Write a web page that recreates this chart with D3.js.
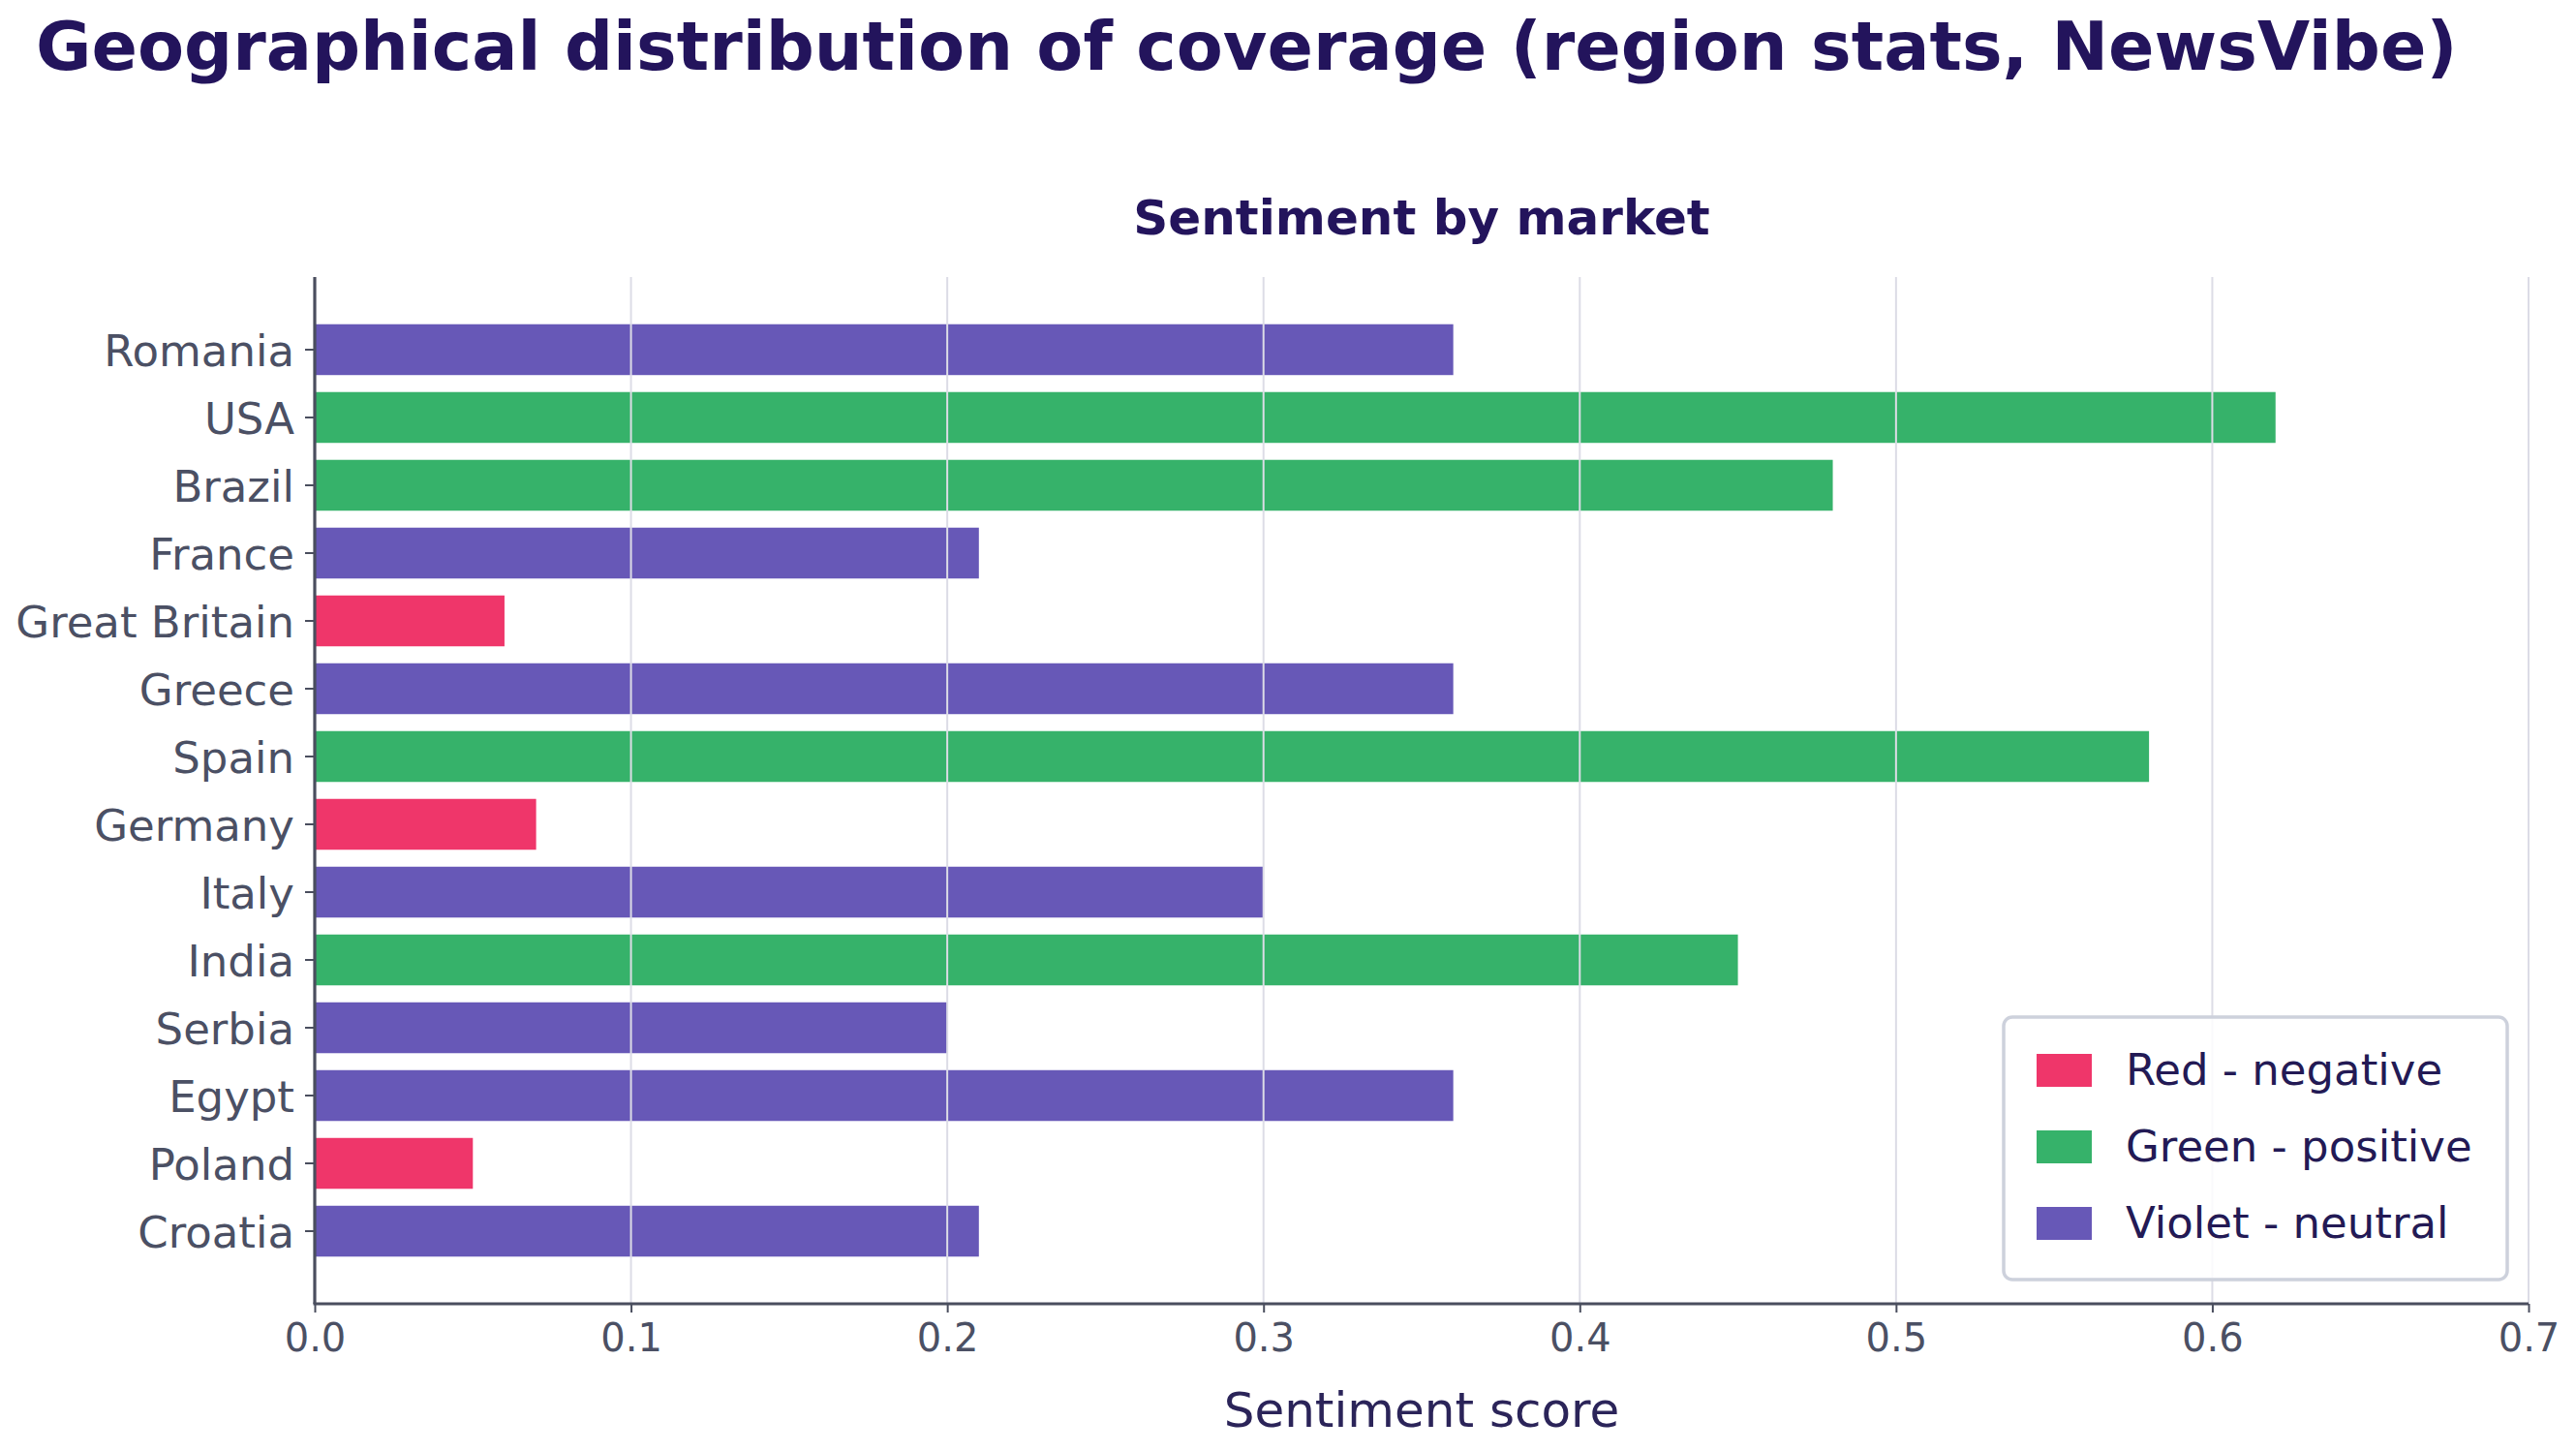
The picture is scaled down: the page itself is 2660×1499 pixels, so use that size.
<!DOCTYPE html>
<html>
<head>
<meta charset="utf-8">
<script src="https://cdn.jsdelivr.net/npm/d3@7"></script>
<style>
  html, body { margin: 0; padding: 0; background: #ffffff; }
  svg { display: block; }
  text { font-family: "DejaVu Sans", sans-serif; }
</style>
</head>
<body>
<svg id="chart" width="2660" height="1499"></svg>
<script>
// ---- Data ----
const categories = ["Romania", "USA", "Brazil", "France", "Great Britain", "Greece", "Spain",
                    "Germany", "Italy", "India", "Serbia", "Egypt", "Poland", "Croatia"];
const scores = [0.36, 0.62, 0.48, 0.21, 0.06, 0.36, 0.58, 0.07, 0.30, 0.45, 0.20, 0.36, 0.05, 0.21];
const sentiments = ["neutral", "positive", "positive", "neutral", "negative", "neutral", "positive",
                    "negative", "neutral", "positive", "neutral", "neutral", "negative", "neutral"];
const xTicks = [0.0, 0.1, 0.2, 0.3, 0.4, 0.5, 0.6, 0.7];
const legendKeys = ["negative", "positive", "neutral"];
const legendLabels = ["Red - negative", "Green - positive", "Violet - neutral"];

const titleText = "Geographical distribution of coverage (region stats, NewsVibe)";
const subtitleText = "Sentiment by market";
const xLabelText = "Sentiment score";

// ---- Styles ----
const colorMap = { negative: "#ef366a", positive: "#36b26a", neutral: "#6758b7" };
const titleColor = "#23145c";
const tickColor = "#4b5064";
const spineColor = "#4a4e5e";
const gridColor = "#dcdce6";

const svg = d3.select("#chart");
const plotLeft = 325, plotRight = 2611, plotTop = 286, plotBottom = 1346;

const x = d3.scaleLinear().domain([0, 0.7]).range([plotLeft, plotRight]);
const y = d3.scaleBand().domain(categories).range([plotTop, plotBottom])
  .paddingInner(0.25).paddingOuter(0.696);

// Title
svg.append("text").attr("x", 37).attr("y", 72)
  .attr("font-size", 70).attr("font-weight", "bold").attr("fill", titleColor)
  .text(titleText);

// Subtitle
svg.append("text").attr("x", (plotLeft + plotRight) / 2).attr("y", 242)
  .attr("text-anchor", "middle")
  .attr("font-size", 50).attr("font-weight", "bold").attr("fill", titleColor)
  .text(subtitleText);

// Bars
svg.append("g").selectAll("rect").data(categories).join("rect")
  .attr("x", x(0))
  .attr("y", d => y(d))
  .attr("width", (d, i) => x(scores[i]) - x(0))
  .attr("height", y.bandwidth())
  .attr("fill", (d, i) => colorMap[sentiments[i]]);

// Gridlines (drawn above bars)
svg.append("g").selectAll("line").data(xTicks.filter(t => t > 0)).join("line")
  .attr("x1", d => x(d)).attr("x2", d => x(d))
  .attr("y1", plotTop).attr("y2", plotBottom)
  .attr("stroke", gridColor).attr("stroke-width", 2);

// X axis
const xAxis = d3.axisBottom(x).tickValues(xTicks).tickFormat(d3.format(".1f"))
  .tickSize(9).tickPadding(12);
const gx = svg.append("g").attr("transform", `translate(0,${plotBottom})`).call(xAxis);
gx.select(".domain").attr("stroke", spineColor).attr("stroke-width", 3.2)
  .attr("d", `M${plotLeft - 1.5},0H${plotRight}`);
gx.selectAll(".tick line").attr("stroke", spineColor).attr("stroke-width", 2);
gx.selectAll(".tick text").attr("font-size", 40).attr("fill", tickColor)
  .attr("font-family", "DejaVu Sans").attr("dy", "0.71em");

// Y axis
const yAxis = d3.axisLeft(y).tickSize(10).tickPadding(11);
const gy = svg.append("g").attr("transform", `translate(${plotLeft},0)`).call(yAxis);
gy.select(".domain").attr("stroke", spineColor).attr("stroke-width", 3.2)
  .attr("d", `M0,${plotTop}V${plotBottom}`);
gy.selectAll(".tick line").attr("stroke", spineColor).attr("stroke-width", 2);
gy.selectAll(".tick text").attr("font-size", 45).attr("fill", tickColor)
  .attr("font-family", "DejaVu Sans").attr("dy", "0.37em");

// X label
svg.append("text").attr("x", (plotLeft + plotRight) / 2).attr("y", 1473)
  .attr("text-anchor", "middle").attr("font-size", 50).attr("fill", "#2b2459")
  .text(xLabelText);

// Legend
const lg = svg.append("g");
lg.append("rect").attr("x", 2069).attr("y", 1050).attr("width", 520).attr("height", 271)
  .attr("rx", 9).attr("ry", 9)
  .attr("fill", "#ffffff").attr("fill-opacity", 0.85)
  .attr("stroke", "#cdd1dc").attr("stroke-width", 3.5);
const items = lg.selectAll("g.item").data(legendKeys).join("g").attr("class", "item")
  .attr("transform", (d, i) => `translate(0,${i * 79})`);
items.append("rect").attr("x", 2103).attr("y", 1088).attr("width", 57).attr("height", 34)
  .attr("fill", d => colorMap[d]);
items.append("text").attr("x", 2195).attr("y", 1120)
  .attr("font-size", 45).attr("fill", "#231a55")
  .text((d, i) => legendLabels[i]);
</script>
</body>
</html>
